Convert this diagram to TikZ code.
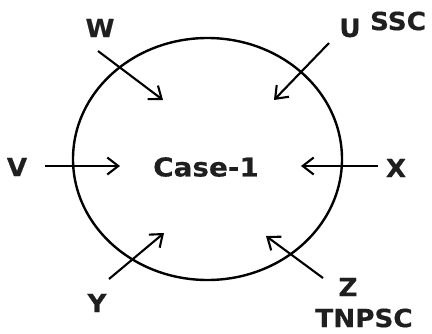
\documentclass[tikz,border=0pt]{standalone}
\usepackage{fontspec}
\setmainfont{DejaVu Sans}[BoldFont={DejaVu Sans Bold}, BoldFeatures={FakeBold=0.4}]
\usetikzlibrary{arrows.meta}
\begin{document}
\begin{tikzpicture}[x=1pt,y=-1pt,
  lbl/.style={font=\fontsize{25}{28}\selectfont\bfseries, text=black!88, inner sep=0pt, xscale=1.05},
  inarrow/.style={line width=2.1pt, -{Straight Barb[length=11pt,width=17pt,line width=2.1pt]}}]
\useasboundingbox (0,0) rectangle (432,333);
\draw[line width=2.4pt] (207.5,159) ellipse [x radius=134.5, y radius=121];
\node[lbl, font=\fontsize{26}{30}\selectfont\bfseries, xscale=1.02] (case) at (206,167) {Case-1};
\node[lbl] (W) at (100,28) {W};
\node[lbl] (U) at (350,28) {U};
\node[lbl] (SSC) at (398,21) {SSC};
\node[lbl] (V) at (17,167) {V};
\node[lbl] (X) at (396,168) {X};
\node[lbl] (Y) at (97,303) {Y};
\node[lbl] (Z) at (348,287) {Z};
\node[lbl] (T) at (364,318) {TNPSC};
\coordinate (w1) at (98,51);  \coordinate (w2) at (163,100);
\coordinate (u1) at (329,43); \coordinate (u2) at (274,100);
\coordinate (v1) at (45,166); \coordinate (v2) at (120,166);
\coordinate (x1) at (378,166);\coordinate (x2) at (301,166);
\coordinate (y1) at (109,279);\coordinate (y2) at (164,233);
\coordinate (z1) at (323,278);\coordinate (z2) at (266,236);
\draw[inarrow] (w1) -- (w2);
\draw[inarrow] (u1) -- (u2);
\draw[inarrow] (v1) -- (v2);
\draw[inarrow] (x1) -- (x2);
\draw[inarrow] (y1) -- (y2);
\draw[inarrow] (z1) -- (z2);
\end{tikzpicture}
\end{document}
